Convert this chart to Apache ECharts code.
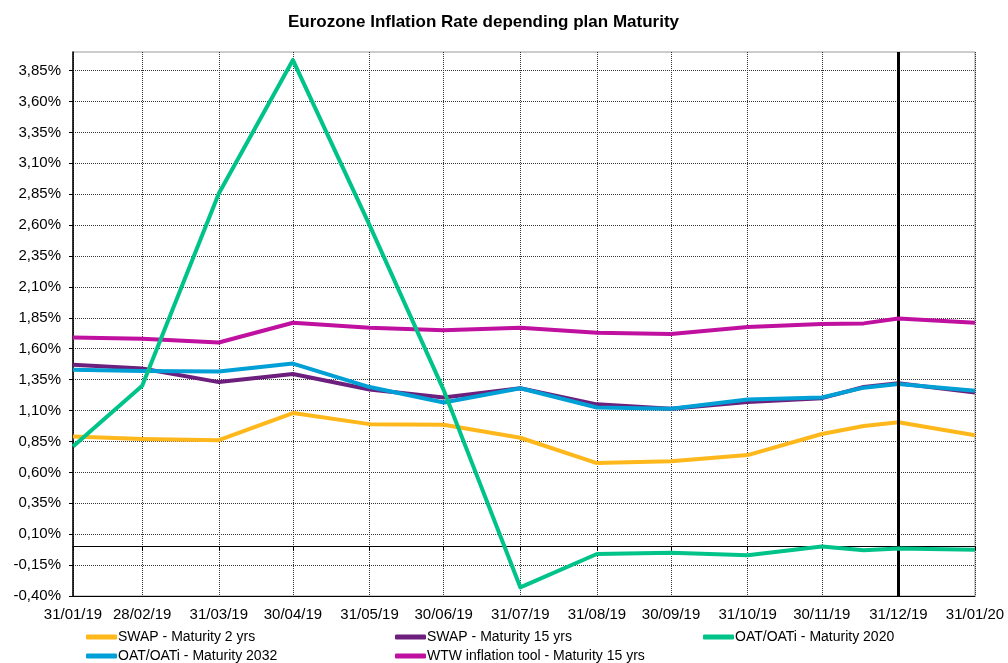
<!DOCTYPE html>
<html>
<head>
<meta charset="utf-8">
<script src="https://cdn.jsdelivr.net/npm/echarts@6/dist/echarts.min.js"></script>
<style>
body{margin:0; background:#fff}
#chart{width:1008px; height:663px}
</style>
</head>
<body>
<div id="chart"></div>
<script>
// dates of the observations (one mid-December point)
var dates = ['2019-01-31','2019-02-28','2019-03-31','2019-04-30','2019-05-31','2019-06-30','2019-07-31',
             '2019-08-31','2019-09-30','2019-10-31','2019-11-30','2019-12-17','2019-12-31','2020-01-31'];
// month ends used for labels and grid lines
var tickDates = ['2019-01-31','2019-02-28','2019-03-31','2019-04-30','2019-05-31','2019-06-30','2019-07-31',
                 '2019-08-31','2019-09-30','2019-10-31','2019-11-30','2019-12-31','2020-01-31'];
var swap2   = [0.89, 0.87, 0.86, 1.08, 0.99, 0.985, 0.88, 0.675, 0.69, 0.74, 0.91, 0.975, 1.005, 0.90];
var swap15  = [1.47, 1.44, 1.33, 1.395, 1.27, 1.205, 1.28, 1.15, 1.115, 1.17, 1.20, 1.29, 1.32, 1.245];
var oat2020 = [0.81, 1.30, 2.855, 3.935, 2.60, 1.265, -0.33, -0.06, -0.05, -0.07, 0.0, -0.03, -0.015, -0.025];
var oat2032 = [1.43, 1.42, 1.415, 1.48, 1.29, 1.165, 1.28, 1.125, 1.115, 1.19, 1.205, 1.285, 1.315, 1.26];
var wtw     = [1.69, 1.68, 1.65, 1.81, 1.77, 1.75, 1.77, 1.73, 1.72, 1.775, 1.80, 1.805, 1.845, 1.81];
var markDate = '2019-12-31';

function ts(d){ return new Date(d + 'T00:00:00Z').getTime(); }
function pairs(vals){
    return dates.map(function(d, i){ return [ts(d), vals[i]]; });
}
function fmtDate(v){
    var d = new Date(v);
    var dd = ('0' + d.getUTCDate()).slice(-2);
    var mm = ('0' + (d.getUTCMonth() + 1)).slice(-2);
    var yy = String(d.getUTCFullYear()).slice(-2);
    return dd + '/' + mm + '/' + yy;
}
var tickTs = tickDates.map(ts);
var font = 'Liberation Sans';

var names = ['SWAP - Maturity 2 yrs', 'SWAP - Maturity 15 yrs', 'OAT/OATi - Maturity 2020',
             'OAT/OATi - Maturity 2032', 'WTW inflation tool - Maturity 15 yrs'];
var colors = ['#FFB81C', '#6C1F7D', '#00C389', '#009FD6', '#C0109F'];

function lineSeries(idx, vals, z){
    return {
        name: names[idx],
        type: 'line',
        data: pairs(vals),
        showSymbol: false,
        symbol: 'none',
        z: z,
        lineStyle: {color: colors[idx], width: 4, join: 'round'},
        itemStyle: {color: colors[idx]}
    };
}

var legendPos = [[86, 630], [395, 630], [703, 630], [86, 649], [395, 649]];

var chart = echarts.init(document.getElementById('chart'), null, {renderer: 'canvas'});
var option = {
    animation: false,
    backgroundColor: '#fff',
    textStyle: {fontFamily: font},
    title: {
        text: 'Eurozone Inflation Rate depending plan Maturity',
        left: 283,
        top: 9,
        textStyle: {fontFamily: font, fontSize: 17, fontWeight: 'bold', color: '#000'}
    },
    legend: names.map(function(n, i){
        return {
            data: [n],
            left: legendPos[i][0],
            top: legendPos[i][1],
            icon: 'roundRect',
            itemWidth: 31,
            itemHeight: 5,
            itemGap: 0,
            padding: 0,
            textStyle: {fontFamily: font, fontSize: 14, color: '#000', padding: [0, 0, 0, -4]}
        };
    }),
    grid: {
        left: 73,
        right: 33,
        top: 52,
        bottom: 67,
        show: true,
        borderColor: '#9a9a9a',
        borderWidth: 1
    },
    xAxis: [{
        type: 'value',
        min: ts('2019-01-31'),
        max: ts('2020-01-31'),
        position: 'bottom',
        axisLine: {onZero: false, lineStyle: {color: '#000', width: 1}},
        axisTick: {show: false, customValues: tickTs},
        axisLabel: {
            customValues: tickTs,
            formatter: fmtDate,
            color: '#000',
            fontSize: 15,
            fontFamily: font,
            margin: 11,
            hideOverlap: false,
            showMinLabel: true,
            showMaxLabel: true
        },
        splitLine: {show: true, lineStyle: {color: '#333', type: 'dotted', width: 1}}
    }, {
        type: 'value',
        min: ts('2019-01-31'),
        max: ts('2020-01-31'),
        position: 'top',
        axisLine: {onZero: true, lineStyle: {color: '#000', width: 1}},
        axisTick: {show: true, inside: true, length: 4, customValues: tickTs, lineStyle: {color: '#000'}},
        axisLabel: {show: false},
        splitLine: {show: false}
    }],
    yAxis: {
        type: 'value',
        min: -0.4,
        max: 4.0,
        interval: 0.25,
        axisLine: {show: true, lineStyle: {color: '#000', width: 1.5}},
        axisTick: {show: true, length: 4, lineStyle: {color: '#000'}},
        axisLabel: {
            color: '#000',
            fontSize: 15,
            fontFamily: font,
            margin: 12,
            showMaxLabel: false,
            formatter: function(v){
                if (v > 3.9) return '';
                return v.toFixed(2).replace('.', ',') + '%';
            }
        },
        splitLine: {show: true, showMaxLine: false, lineStyle: {color: '#333', type: 'dotted', width: 1}}
    },
    series: [
        lineSeries(0, swap2, 2),
        lineSeries(1, swap15, 3),
        lineSeries(3, oat2032, 4),
        lineSeries(4, wtw, 5),
        lineSeries(2, oat2020, 6),
        {
            type: 'line',
            data: [],
            z: 7,
            silent: true,
            markLine: {
                silent: true,
                symbol: 'none',
                label: {show: false},
                lineStyle: {color: '#000', width: 3, type: 'solid'},
                data: [{xAxis: ts(markDate)}]
            }
        }
    ]
};
chart.setOption(option);
</script>
</body>
</html>
